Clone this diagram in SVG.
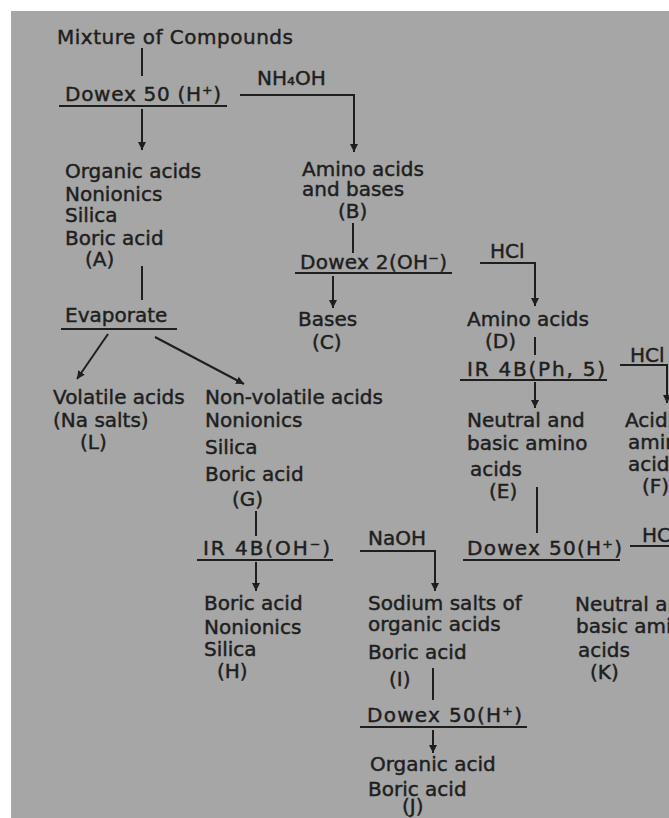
<svg xmlns="http://www.w3.org/2000/svg" width="669" height="818" viewBox="0 0 669 818">
<style>
.t{font-family:"DejaVu Sans","Liberation Sans",sans-serif;font-size:20px;fill:#1e1e1e;stroke:#1e1e1e;stroke-width:0.45}
.c{stroke:#1e1e1e;stroke-width:2;fill:none}
.u{stroke:#1e1e1e;stroke-width:2.2;fill:none}
</style>
<defs>
<marker id="ah" markerUnits="userSpaceOnUse" markerWidth="9" markerHeight="9" refX="8" refY="4.5" orient="auto">
<path d="M0,0.5 L8,4.5 L0,8.5 z" fill="#1e1e1e"/>
</marker>
</defs>
<rect x="0" y="0" width="669" height="818" fill="#ffffff"/>
<rect x="11" y="11" width="658" height="807" fill="#a6a6a6"/>

<g id="connectors">
<path class="c" d="M142 48 V76"/>
<path class="c" d="M142 109 V150" marker-end="url(#ah)"/>
<path class="c" d="M240 95 H354 V152" marker-end="url(#ah)"/>
<path class="c" d="M142 266 V300"/>
<path class="c" d="M108 334 L77 379" marker-end="url(#ah)"/>
<path class="c" d="M155 337 L244 384" marker-end="url(#ah)"/>
<path class="c" d="M353 223 V253"/>
<path class="c" d="M333 276 V308" marker-end="url(#ah)"/>
<path class="c" d="M480 263 H535 V306" marker-end="url(#ah)"/>
<path class="c" d="M535 337 V355"/>
<path class="c" d="M535 382 V408" marker-end="url(#ah)"/>
<path class="c" d="M620 365 H667 V403" marker-end="url(#ah)"/>
<path class="c" d="M537 487 V533"/>
<path class="c" d="M630 546 H669"/>
<path class="c" d="M256 511 V536"/>
<path class="c" d="M256 562 V591" marker-end="url(#ah)"/>
<path class="c" d="M360 551 H435 V591" marker-end="url(#ah)"/>
<path class="c" d="M433 668 V700"/>
<path class="c" d="M433 730 V753" marker-end="url(#ah)"/>
</g>

<g id="mixture"><text class="t" x="57" y="44" textLength="236" lengthAdjust="spacing">Mixture of Compounds</text></g>

<g id="dowex50-top">
<text class="t" x="65" y="101" textLength="156" lengthAdjust="spacing">Dowex 50 (H⁺)</text>
<line class="u" x1="59" y1="106" x2="227" y2="106"/>
</g>

<g id="nh4oh"><text class="t" x="257" y="85">NH₄OH</text></g>

<g id="node-A">
<text class="t"><tspan x="65" y="178">Organic acids</tspan><tspan x="65" y="201">Nonionics</tspan><tspan x="65" y="222">Silica</tspan><tspan x="65" y="245">Boric acid</tspan><tspan x="85" y="266">(A)</tspan></text>
</g>

<g id="evaporate">
<text class="t" x="65" y="322">Evaporate</text>
<line class="u" x1="61" y1="329" x2="177" y2="329"/>
</g>

<g id="node-L">
<text class="t"><tspan x="53" y="404">Volatile acids</tspan><tspan x="53" y="427">(Na salts)</tspan><tspan x="80" y="449">(L)</tspan></text>
</g>

<g id="node-G">
<text class="t"><tspan x="205" y="404">Non-volatile acids</tspan><tspan x="205" y="427">Nonionics</tspan><tspan x="205" y="454">Silica</tspan><tspan x="205" y="481">Boric acid</tspan><tspan x="232" y="506">(G)</tspan></text>
</g>

<g id="ir4b-oh">
<text class="t" x="203" y="555" textLength="127" lengthAdjust="spacing">IR 4B(OH⁻)</text>
<line class="u" x1="197" y1="560" x2="333" y2="560"/>
</g>

<g id="node-H">
<text class="t"><tspan x="204" y="610">Boric acid</tspan><tspan x="204" y="634">Nonionics</tspan><tspan x="204" y="656">Silica</tspan><tspan x="217" y="678">(H)</tspan></text>
</g>

<g id="node-B">
<text class="t"><tspan x="302" y="176">Amino acids</tspan><tspan x="302" y="196">and bases</tspan><tspan x="338" y="218">(B)</tspan></text>
</g>

<g id="dowex2">
<text class="t" x="300" y="269" textLength="147" lengthAdjust="spacing">Dowex 2(OH⁻)</text>
<line class="u" x1="295" y1="273" x2="452" y2="273"/>
</g>

<g id="node-C">
<text class="t"><tspan x="298" y="326">Bases</tspan><tspan x="312" y="349">(C)</tspan></text>
</g>

<g id="hcl-1"><text class="t" x="490" y="258">HCl</text></g>

<g id="node-D">
<text class="t"><tspan x="467" y="326">Amino acids</tspan><tspan x="485" y="348">(D)</tspan></text>
</g>

<g id="ir4b-ph">
<text class="t" x="467" y="376" textLength="138" lengthAdjust="spacing">IR 4B(Ph, 5)</text>
<line class="u" x1="460" y1="380" x2="607" y2="380"/>
</g>

<g id="hcl-2"><text class="t" x="630" y="362">HCl</text></g>

<g id="node-E">
<text class="t"><tspan x="467" y="427">Neutral and</tspan><tspan x="467" y="450">basic amino</tspan><tspan x="470" y="476">acids</tspan><tspan x="489" y="498">(E)</tspan></text>
</g>

<g id="node-F">
<text class="t"><tspan x="625" y="427">Acidic</tspan><tspan x="628" y="449">amino</tspan><tspan x="628" y="471">acids</tspan><tspan x="642" y="493">(F)</tspan></text>
</g>

<g id="dowex50-mid">
<text class="t" x="467" y="555" textLength="155" lengthAdjust="spacing">Dowex 50(H⁺)</text>
<line class="u" x1="463" y1="560" x2="620" y2="560"/>
</g>

<g id="hcl-3"><text class="t" x="642" y="542">HCl</text></g>

<g id="naoh"><text class="t" x="368" y="545">NaOH</text></g>

<g id="node-I">
<text class="t"><tspan x="368" y="610">Sodium salts of</tspan><tspan x="368" y="631">organic acids</tspan><tspan x="368" y="659">Boric acid</tspan><tspan x="389" y="686">(I)</tspan></text>
</g>

<g id="node-K">
<text class="t"><tspan x="575" y="611">Neutral and</tspan><tspan x="576" y="633">basic amino</tspan><tspan x="578" y="657">acids</tspan><tspan x="590" y="679">(K)</tspan></text>
</g>

<g id="dowex50-bot">
<text class="t" x="367" y="722" textLength="155" lengthAdjust="spacing">Dowex 50(H⁺)</text>
<line class="u" x1="360" y1="727" x2="527" y2="727"/>
</g>

<g id="node-J">
<text class="t"><tspan x="370" y="771">Organic acid</tspan><tspan x="368" y="796">Boric acid</tspan><tspan x="402" y="813">(J)</tspan></text>
</g>
</svg>
